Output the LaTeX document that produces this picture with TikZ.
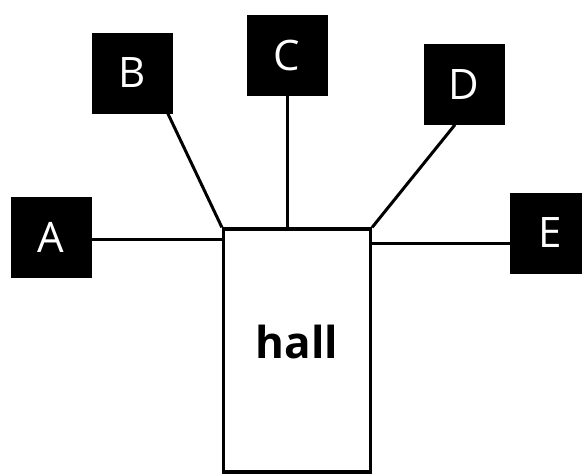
\documentclass[tikz,border=0pt]{standalone}
\usepackage{fontspec}
\setsansfont{Open Sans}
\usetikzlibrary{positioning}
\tikzset{
    % Box styles
    room box/.style={
        fill=black,
        draw=black,
        rectangle,
        minimum width=80pt,
        minimum height=80pt,
        inner sep=0pt,
        text=white,
        font=\sffamily\fontsize{42}{42}\selectfont
    },
    hall box/.style={
        draw=black,
        line width=3.2pt,
        rectangle,
        minimum width=147pt,
        minimum height=243pt
    },
    hall text/.style={
        font=\sffamily\bfseries\fontsize{44}{44}\selectfont
    },
    % Line styles
    link line/.style={
        line width=3pt,
        black
    }
}

\begin{document}
\begin{tikzpicture}[x=1pt, y=1pt]
        \useasboundingbox (0,0) rectangle (582,-474);
        % Nodes
        \node[hall box, label={[hall text, yshift=9pt]center:hall}] (hall) at (297,-350.5) {};
        \node[room box] (A) at (51,-237.5) {A};
        \node[room box] (B) at (132.5,-73) {B};
        \node[room box] (C) at (287,-55) {C};
        \node[room box] (D) at (464,-84.5) {D};
        \node[room box] (E) at (550,-233) {E};

        % Edges
        \draw[link line] ([yshift=-2pt]A.east) -- ([yshift=-2pt]A.east -| hall.west);
        \draw[link line] ([xshift=-5pt]B.south east) -- (hall.north west);
        \draw[link line] (C.south) -- (C.south |- hall.north);
        \draw[link line] ([xshift=-9pt]D.south) -- (hall.north east);
        \draw[link line] ([yshift=-10pt]E.west) -- ([yshift=-10pt]E.west -| hall.east);
    \end{tikzpicture}
\end{document}
